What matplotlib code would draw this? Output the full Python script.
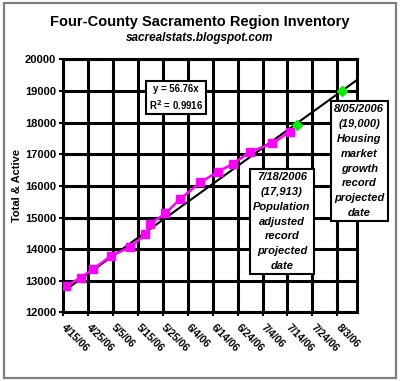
import datetime as dt

import matplotlib
matplotlib.use('Agg')
import matplotlib.pyplot as plt
from matplotlib.patches import Rectangle
import numpy as np

# inventory readings
dates = ['2006-04-16', '2006-04-22', '2006-04-27', '2006-05-04', '2006-05-12',
         '2006-05-18', '2006-05-20', '2006-05-26', '2006-06-01', '2006-06-09',
         '2006-06-16', '2006-06-22', '2006-06-29', '2006-07-08', '2006-07-15']
inventory = [12830, 13100, 13370, 13780, 14070,
             14470, 14810, 15130, 15590, 16110,
             16450, 16690, 17080, 17350, 17720]

# projected record dates
proj_dates = ['2006-07-18', '2006-08-05']
proj_values = [17913, 19000]

# trendline y = 56.76x, x counted in days from this origin
trend_slope = 56.76
trend_origin = '2005-09-04'

x_start = '2006-04-15'
x_end = '2006-08-11'
tick_step_days = 10
y_ticks = list(range(12000, 20001, 1000))

title = 'Four-County Sacramento Region Inventory'
subtitle = 'sacrealstats.blogspot.com'
ylabel = 'Total & Active'
eq_text = 'y = 56.76x\nR$^{\\mathbf{2}}$ = 0.9916'
note1 = '7/18/2006\n(17,913)\nPopulation\nadjusted\nrecord\nprojected\ndate'
note2 = '8/05/2006\n(19,000)\nHousing\nmarket\ngrowth\nrecord\nprojected\ndate'

plt.rcParams['font.family'] = ['Liberation Sans', 'DejaVu Sans']
plt.rcParams['font.weight'] = 'bold'
plt.rcParams['mathtext.default'] = 'bf'

d = np.array(dates, dtype='datetime64[D]').astype(dt.datetime)
pd_ = np.array(proj_dates, dtype='datetime64[D]').astype(dt.datetime)
xs = np.datetime64(x_start).astype(dt.datetime)
xe = np.datetime64(x_end).astype(dt.datetime)

fig = plt.figure(figsize=(4.0, 3.81), dpi=100)
ax = fig.add_axes([0.158, 0.180, 0.735, 0.664])

# frame around the whole picture
fig.patches.append(Rectangle((0.009, 0.009), 0.982, 0.982, transform=fig.transFigure,
                             fill=False, edgecolor='#7f7f7f', lw=1.6))

ax.set_xlim(xs, xe)
ax.set_ylim(y_ticks[0], y_ticks[-1])

ticks = [xs + dt.timedelta(days=i) for i in range(0, (xe - xs).days + 1, tick_step_days)]
ax.set_xticks(ticks)
ax.set_xticklabels([f'{t.month}/{t.day}/{t.strftime("%y")}' for t in ticks],
                   rotation=-45, ha='left', va='center', rotation_mode='anchor',
                   fontsize=7.5, fontweight='bold')
ax.set_yticks(y_ticks)
ax.set_yticklabels([str(v) for v in y_ticks], fontsize=8, fontweight='bold')
ax.tick_params(axis='x', length=3, width=1.5, pad=7)
ax.tick_params(axis='y', length=3, width=1.5, pad=2)

ax.grid(True, color='black', lw=2.2)
ax.set_axisbelow(True)
for s in ax.spines.values():
    s.set_linewidth(2.2)

# trendline
origin = np.datetime64(trend_origin).astype(dt.datetime)
tx = [xs, xe]
ty = [trend_slope * (t - origin).days for t in tx]
ax.plot(tx, ty, color='black', lw=1.5, zorder=3)

ax.plot(d, inventory, color='#ff00ff', lw=1.8, marker='s', ms=5.5, zorder=4)
ax.plot(pd_, proj_values, linestyle='none', color='#00ee00', marker='D', ms=5, zorder=4)

box = dict(boxstyle='square,pad=0.3', facecolor='white', edgecolor='black', lw=1.5)
ax.text(0.383, 0.849, eq_text, transform=ax.transAxes, ha='center', va='center',
        fontsize=6.9, fontweight='bold', linespacing=1.35, bbox=box, zorder=5)
ax.text(0.744, 0.359, note1, transform=ax.transAxes, ha='center', va='center',
        fontsize=8, fontweight='bold', style='italic', linespacing=1.6,
        bbox=box, zorder=5)
ax.text(1.007, 0.598, note2, transform=ax.transAxes, ha='center', va='center',
        fontsize=8, fontweight='bold', style='italic', linespacing=1.6,
        bbox=box, zorder=5, clip_on=False)

fig.text(0.5, 0.943, title, ha='center', va='center', fontsize=10.5, fontweight='bold')
fig.text(0.5, 0.900, subtitle, ha='center', va='center', fontsize=8.5,
         fontweight='bold', style='italic')
ax.set_ylabel(ylabel, fontsize=8, fontweight='bold', labelpad=2)

fig.savefig('out.png', dpi=100)
